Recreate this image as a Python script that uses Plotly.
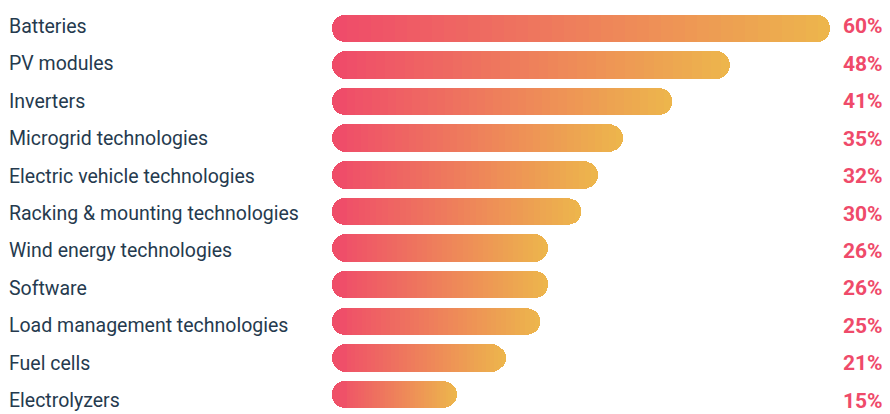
import plotly.graph_objects as go

categories = [
    "Batteries", "PV modules", "Inverters", "Microgrid technologies",
    "Electric vehicle technologies", "Racking & mounting technologies",
    "Wind energy technologies", "Software", "Load management technologies",
    "Fuel cells", "Electrolyzers",
]
values = [60, 48, 41, 35, 32, 30, 26, 26, 25, 21, 15]
value_labels = [f"{v}%" for v in values]

# ---- styling / layout constants ----
# the page body adds an 8px margin, so the figure is 8px smaller and shifted
W, H = 882, 406
ML, MR, MT, MB = 324, 60, 0, 0
XMAX = 60
Y_RANGE = [10.533, -0.554]
BAR_W = 0.75
C_START = (239, 74, 106)
C_END = (237, 182, 76)
LABEL_COLOR = "#253a4e"
PCT_COLOR = "#ef4a6a"
FONT = "Roboto, Liberation Sans Narrow, sans-serif"
N_SEG = 40

px_x = (W - ML - MR) / XMAX
px_y = (H - MT - MB) / (Y_RANGE[0] - Y_RANGE[1])
r_units = 0.5 * BAR_W * px_y / px_x  # corner radius in x units
t_units = 1.1 * r_units


def grad(f):
    f = max(0.0, min(1.0, f))
    c = [round(a + (b - a) * f) for a, b in zip(C_START, C_END)]
    return f"rgb({c[0]},{c[1]},{c[2]})"


fig = go.Figure()

# rounded left cap (floating bar -> all corners rounded)
fig.add_trace(go.Bar(
    y=categories, x=[t_units + 1.05 * r_units] * len(values), base=[0] * len(values),
    orientation="h", width=BAR_W,
    marker=dict(color=[grad(t_units / 2 / v) for v in values], line=dict(width=0)),
    hoverinfo="skip", showlegend=False,
))
# invisible spacer at start of stack
fig.add_trace(go.Bar(
    y=categories, x=[t_units] * len(values), orientation="h", width=BAR_W,
    marker=dict(color="rgba(0,0,0,0)", line=dict(width=0)),
    hoverinfo="skip", showlegend=False,
))
# gradient segments
for j in range(N_SEG):
    seg = [(v - t_units) / N_SEG for v in values]
    cols = [grad((t_units + (j + 0.5) * (v - t_units) / N_SEG) / v) for v in values]
    fig.add_trace(go.Bar(
        y=categories, x=seg, orientation="h", width=BAR_W,
        marker=dict(color=cols, line=dict(width=0)),
        hoverinfo="skip", showlegend=False,
    ))

annotations = []
PW = W - ML - MR
for i, (cat, lab) in enumerate(zip(categories, value_labels)):
    ys = 2.0 - 0.83 * i
    annotations.append(dict(
        xref="paper", yref="y", x=(0 - ML) / PW, y=cat,
        text=cat, showarrow=False, xanchor="left", yanchor="middle", yshift=ys,
        borderpad=0, font=dict(family=FONT, size=19.5, color=LABEL_COLOR),
    ))
    annotations.append(dict(
        xref="paper", yref="y", x=(876 - ML) / PW, y=cat,
        text=f"<b>{lab}</b>", showarrow=False, xanchor="right", yanchor="middle", yshift=ys,
        borderpad=0, font=dict(family=FONT, size=21, color=PCT_COLOR),
    ))

fig.update_layout(
    width=W, height=H,
    margin=dict(l=ML, r=MR, t=MT, b=MB, pad=0),
    barmode="relative", bargap=0, bargroupgap=0, barcornerradius="50%",
    paper_bgcolor="white", plot_bgcolor="white",
    xaxis=dict(range=[0, XMAX], visible=False, fixedrange=True),
    yaxis=dict(range=Y_RANGE, visible=False, fixedrange=True,
               categoryorder="array", categoryarray=categories),
    annotations=annotations,
    showlegend=False,
)

fig.write_html("out.html")
